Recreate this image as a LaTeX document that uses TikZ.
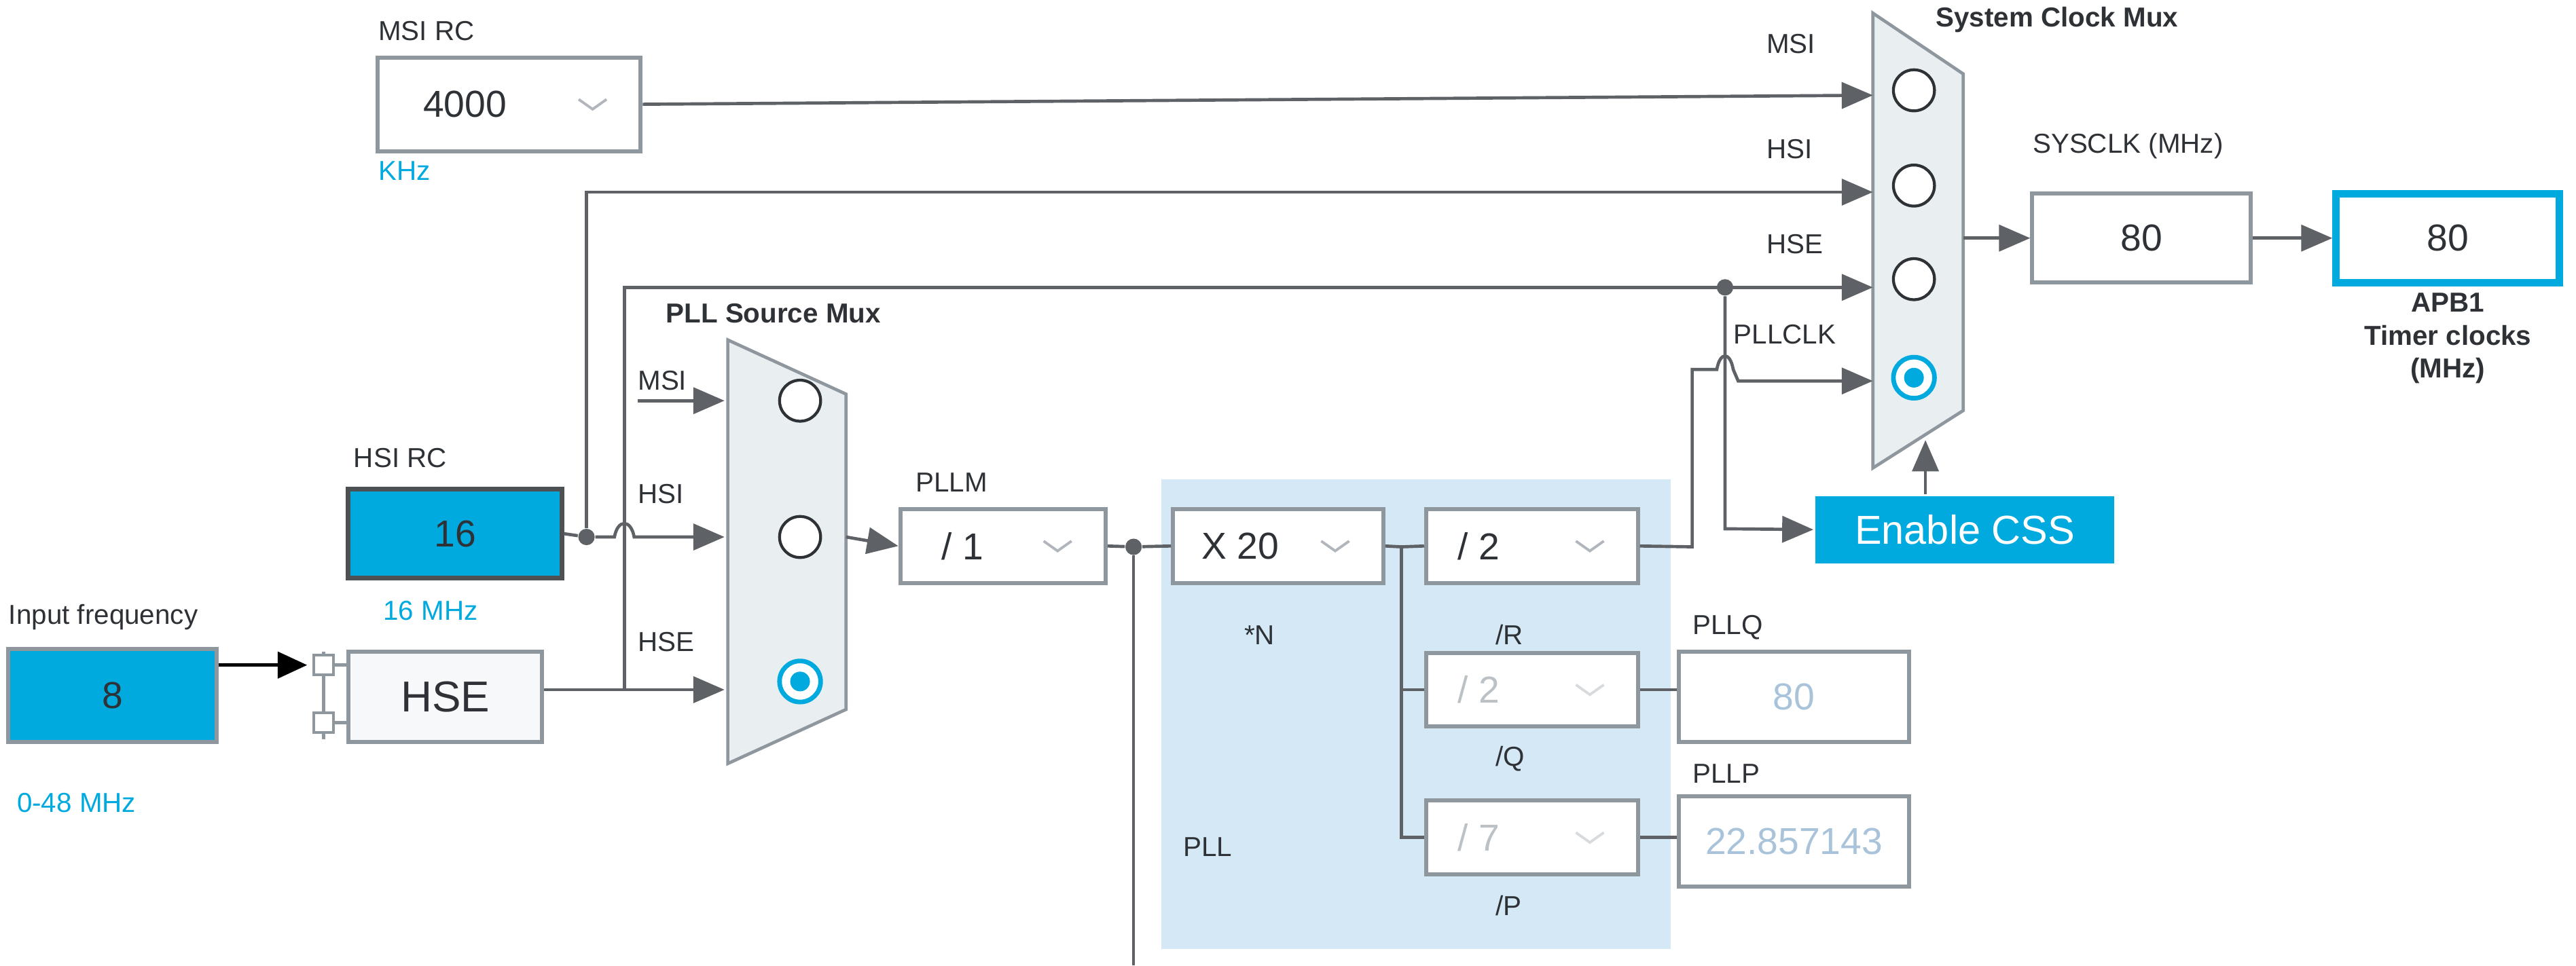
\documentclass[tikz,border=0pt]{standalone}
\usepackage{fontspec}
\setmainfont{Liberation Sans}
\usetikzlibrary{arrows.meta,calc}
\definecolor{ln}{HTML}{5E6266}
\definecolor{cy}{HTML}{00AADF}
\definecolor{tx}{HTML}{2E3236}
\definecolor{muxf}{HTML}{E9EEF1}
\definecolor{pllbg}{HTML}{D4E8F5}
\definecolor{dim}{HTML}{A9C4DA}
\definecolor{bd}{HTML}{8E979E}
\tikzset{
  x=0.02cm,y=-0.02cm,
  wire/.style={draw=ln,line width=1.1pt},
  arr/.style={wire,-{Triangle[length=0.38cm,width=0.32cm]}},
  box/.style={draw=bd,line width=1.4pt,fill=white,inner sep=0pt,font=\fontsize{13}{15}\selectfont,text=tx},
  lbl/.style={font=\fontsize{9.5}{11}\selectfont,text=tx,inner sep=0pt,anchor=south west},
  blbl/.style={lbl,text=cy},
  bold/.style={lbl,font=\fontsize{9.5}{11}\selectfont\bfseries},
  chev/.style={draw=bd!70,line width=0.9pt},
  rad/.style={circle,draw=tx,line width=1pt,minimum size=0.5cm,inner sep=0pt,fill=white},
  dot/.style={circle,fill=ln,inner sep=0pt,minimum size=0.2cm},
}
\begin{document}
\begin{tikzpicture}
\useasboundingbox (0,0) rectangle (1568,588);
% PLL background
\fill[pllbg] (707,292) rectangle (1017,578);
% labels
\node[lbl] at (230,25) {MSI RC};
\node[blbl] at (230,110) {KHz};
\node[lbl] at (215,285) {HSI RC};
\node[blbl] at (233,378) {16 MHz};
\node[lbl] at (5,384) {Input frequency};
\node[blbl] at (10,495) {0-48 MHz};
\node[bold] at (405,197) {PLL Source Mux};
\node[lbl] at (388,238) {MSI};
\node[lbl] at (388,307) {HSI};
\node[lbl] at (388,397) {HSE};
\node[lbl] at (557,300) {PLLM};
\node[lbl] at (757,393) {*N};
\node[lbl] at (720,522) {PLL};
\node[lbl] at (910,393) {/R};
\node[lbl] at (910,470) {/Q};
\node[lbl] at (910,558) {/P};
\node[lbl] at (1030,390) {PLLQ};
\node[lbl] at (1030,477) {PLLP};
\node[lbl] at (1075,33) {MSI};
\node[lbl] at (1075,97) {HSI};
\node[lbl] at (1075,155) {HSE};
\node[lbl] at (1055,210) {PLLCLK};
\node[bold] at (1178,20) {System Clock Mux};
\node[lbl] at (1237,97) {SYSCLK (MHz)};
\node[font=\fontsize{9.5}{11.5}\selectfont\bfseries,text=tx,align=center,inner sep=0pt,anchor=north] at (1490,178) {APB1\\Timer clocks\\(MHz)};
% boxes
\node[box,minimum width=3.2cm,minimum height=1.14cm] (msi) at (310,63.5) {};
\node[text=tx,font=\fontsize{13}{15}\selectfont] at (283,63.5) {4000};
\node[box,fill=cy,draw=tx!85,line width=1.6pt,minimum width=2.6cm,minimum height=1.08cm] (hsi) at (277,325) {16};
\node[box,fill=cy,draw=bd,minimum width=2.54cm,minimum height=1.14cm] (inp) at (68.5,423.5) {8};
\node[box,fill=muxf!80!bd!20,minimum width=2.36cm,minimum height=1.1cm,font=\fontsize{15}{17}\selectfont] (hse) at (271,424.5) {HSE};
\node[box,minimum width=2.5cm,minimum height=0.9cm] (pllm) at (610.5,332.5) {};
\node[text=tx,font=\fontsize{13}{15}\selectfont] at (586,332.5) {/ 1};
\node[box,minimum width=2.56cm,minimum height=0.9cm] (pn) at (778,332.5) {};
\node[text=tx,font=\fontsize{13}{15}\selectfont] at (755,332.5) {X 20};
\node[box,minimum width=2.58cm,minimum height=0.9cm] (pr) at (932.5,332.5) {};
\node[text=tx,font=\fontsize{13}{15}\selectfont] at (900,332.5) {/ 2};
\node[box,minimum width=2.58cm,minimum height=0.9cm] (pq) at (932.5,420) {};
\node[text=bd!60,font=\fontsize{13}{15}\selectfont] at (900,420) {/ 2};
\node[box,minimum width=2.58cm,minimum height=0.9cm] (pp) at (932.5,510) {};
\node[text=bd!60,font=\fontsize{13}{15}\selectfont] at (900,510) {/ 7};
\node[box,text=dim,minimum width=2.8cm,minimum height=1.1cm] (plq) at (1092,424.5) {80};
\node[box,text=dim,minimum width=2.8cm,minimum height=1.1cm] (plp) at (1092,512.5) {22.857143};
\node[box,draw=none,fill=cy,text=white,minimum width=3.64cm,minimum height=0.82cm,font=\fontsize{14}{16}\selectfont] (css) at (1196,322.5) {Enable CSS};
\node[box,minimum width=2.66cm,minimum height=1.08cm] (sys) at (1303.5,145) {80};
\node[box,draw=cy,line width=2.6pt,minimum width=2.72cm,minimum height=1.08cm] (apb) at (1490,145) {80};
% chevrons
\foreach \b in {msi,pllm,pn,pr}{
  \draw[chev] ($(\b.east)+(-0.78cm,0.06cm)$) -- ++(0.17cm,-0.12cm) -- ++(0.17cm,0.12cm);}
\foreach \b in {pq,pp}{
  \draw[chev,draw=bd!35] ($(\b.east)+(-0.78cm,0.06cm)$) -- ++(0.17cm,-0.12cm) -- ++(0.17cm,0.12cm);}
% PLL source mux
\draw[fill=muxf,draw=bd,line width=1.1pt] (443,207) -- (515,240) -- (515,432) -- (443,465) -- cycle;
\node[rad] (pm1) at (487,244) {};
\node[rad] (pm2) at (487,327) {};
\node[rad,draw=cy,line width=1.6pt] (pm3) at (487,415) {};
\fill[cy] (pm3) circle (0.12cm);
% System clock mux
\draw[fill=muxf,draw=bd,line width=1.1pt] (1140,8) -- (1195,45) -- (1195,250) -- (1140,285) -- cycle;
\node[rad] (sm1) at (1165,55) {};
\node[rad] (sm2) at (1165,113) {};
\node[rad] (sm3) at (1165,170) {};
\node[rad,draw=cy,line width=1.6pt] (sm4) at (1165,230) {};
\fill[cy] (sm4) circle (0.12cm);
% coordinates
\coordinate (smi1) at (1140,58);
\coordinate (smi2) at (1140,117);
\coordinate (smi3) at (1140,175);
\coordinate (smi4) at (1140,232);
\coordinate (pmi1) at (441,244);
\coordinate (pmi2) at (441,327);
\coordinate (pmi3) at (441,420);
\coordinate (pmo) at (515,327);
\coordinate (smo) at (1195,145);
\coordinate (smb) at (1172,268);
\coordinate (pmsi) at (388,244);
\node[dot] (d1) at (357,327) {};
\node[dot] (d2) at (690,333) {};
\node[dot] (d3) at (1050,175) {};
% input
\draw[line width=1.3pt,-{Triangle[length=0.36cm,width=0.32cm]},black] (inp.east|-0,405) -- (187,405);
\draw[draw=bd,line width=1pt] (197,397) -- (197,450);
\node[draw=bd,fill=white,line width=1pt,minimum size=0.24cm,inner sep=0pt] (c1) at (197,405) {};
\node[draw=bd,fill=white,line width=1pt,minimum size=0.24cm,inner sep=0pt] (c2) at (197,440) {};
\draw[wire,draw=bd] (c1.east) -- (hse.west|-c1);
\draw[wire,draw=bd] (c2.east) -- (hse.west|-c2);
% MSI
\draw[arr] (msi.east) -- (smi1);
\draw[arr] (pmsi) -- (pmi1);
% HSI
\draw[wire] (hsi.east) -- (d1);
\draw[arr] (d1) -- (374,327) .. controls (376,316) and (384,316) .. (386,327) -- (pmi2);
\draw[arr] (d1) -- (357,117) -- (smi2);
% HSE
\draw[arr] (hse.east|-0,420) -- (pmi3);
\draw[arr] (380,420) -- (380,175) -- (smi3);
\draw[arr] (d3) -- (1050,322) -- (css.west);
% PLL chain
\draw[arr] (pmo) -- (pllm.west);
\draw[wire] (pllm.east) -- (d2) -- (pn.west);
\draw[wire] (d2) -- (690,588);
\draw[wire] (pn.east) -- (853,333) -- (pr.west);
\draw[wire] (853,333) -- (853,510) -- (pp.west);
\draw[wire] (853,420) -- (pq.west);
\draw[wire] (pq.east) -- (plq.west|-pq);
\draw[wire] (pp.east) -- (plp.west|-pp);
\draw[arr] (pr.east) -- (1030,333) -- (1030,225) -- (1045,225) .. controls (1047,214) and (1053,214) .. (1055,225) -- (1058,232) -- (smi4);
% outputs
\draw[arr] (smo) -- (sys.west);
\draw[arr] (sys.east) -- (apb.west);
\draw[arr] (css.north-|smb) -- (smb);
\end{tikzpicture}
\end{document}
